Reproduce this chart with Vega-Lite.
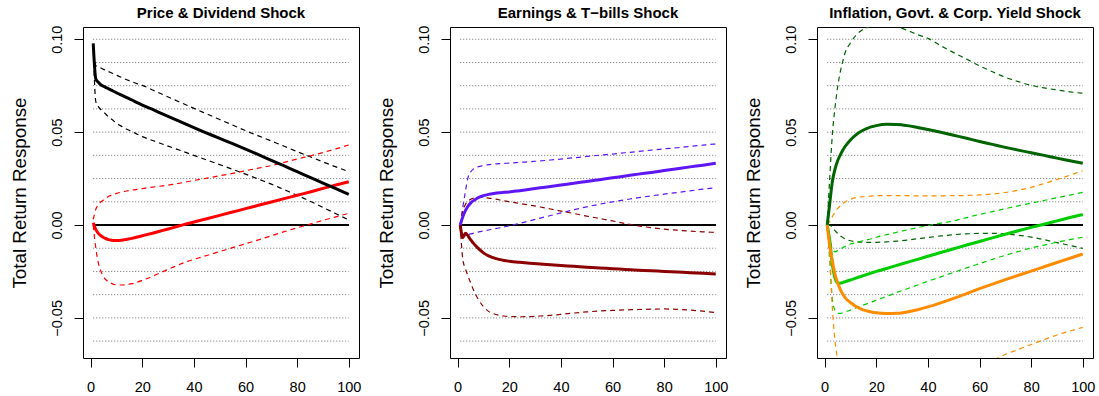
{
  "$schema": "https://vega.github.io/schema/vega-lite/v6.json",
  "autosize": {"type": "none"},
  "padding": {"left": 83, "top": 27, "right": 1016, "bottom": 38},
  "background": "white",
  "bounds": "flush",
  "spacing": 91,
  "datasets": {
    "grid": [{"g": -0.0625}, {"g": -0.05}, {"g": -0.0375}, {"g": -0.025}, {"g": -0.0125}, {"g": 0.0125}, {"g": 0.025}, {"g": 0.0375}, {"g": 0.05}, {"g": 0.0625}, {"g": 0.075}, {"g": 0.0875}, {"g": 0.1}],
    "p1": [
      {"x": 1, "bs": 0.0978, "bu": 0.0975, "bl": 0.0975, "rs": 0.0012, "ru": 0.003, "rl": 0.0},
      {"x": 2, "bs": 0.0786, "bu": 0.0858, "bl": 0.0664, "rs": -0.0025, "ru": 0.0085, "rl": -0.0125},
      {"x": 3, "bs": 0.0768, "bu": 0.0851, "bl": 0.0637, "rs": -0.0045, "ru": 0.011, "rl": -0.0205},
      {"x": 4, "bs": 0.0754, "bu": 0.0845, "bl": 0.0621, "rs": -0.0058, "ru": 0.0125, "rl": -0.025},
      {"x": 5, "bs": 0.0747, "bu": 0.0838, "bl": 0.061, "rs": -0.0067, "ru": 0.0135, "rl": -0.0278},
      {"x": 6, "bs": 0.074, "bu": 0.0832, "bl": 0.0595, "rs": -0.0074, "ru": 0.0145, "rl": -0.0296},
      {"x": 7, "bs": 0.0733, "bu": 0.0826, "bl": 0.058, "rs": -0.0079, "ru": 0.0155, "rl": -0.0307},
      {"x": 8, "bs": 0.0726, "bu": 0.082, "bl": 0.0571, "rs": -0.0082, "ru": 0.016, "rl": -0.0314},
      {"x": 10, "bs": 0.0712, "bu": 0.0806, "bl": 0.0548, "rs": -0.0084, "ru": 0.017, "rl": -0.0322},
      {"x": 12, "bs": 0.0699, "bu": 0.0794, "bl": 0.0531, "rs": -0.0082, "ru": 0.0177, "rl": -0.0323},
      {"x": 14, "bs": 0.0686, "bu": 0.0782, "bl": 0.0516, "rs": -0.0077, "ru": 0.0183, "rl": -0.0321},
      {"x": 16, "bs": 0.0673, "bu": 0.0771, "bl": 0.0503, "rs": -0.0072, "ru": 0.0188, "rl": -0.0316},
      {"x": 18, "bs": 0.0659, "bu": 0.0761, "bl": 0.0489, "rs": -0.0065, "ru": 0.0192, "rl": -0.0308},
      {"x": 20, "bs": 0.0646, "bu": 0.0752, "bl": 0.0476, "rs": -0.0058, "ru": 0.0196, "rl": -0.0298},
      {"x": 24, "bs": 0.0622, "bu": 0.0727, "bl": 0.0455, "rs": -0.0044, "ru": 0.0204, "rl": -0.0276},
      {"x": 28, "bs": 0.0597, "bu": 0.0702, "bl": 0.0435, "rs": -0.0029, "ru": 0.0211, "rl": -0.0251},
      {"x": 32, "bs": 0.0573, "bu": 0.0677, "bl": 0.0415, "rs": -0.0014, "ru": 0.0219, "rl": -0.0227},
      {"x": 36, "bs": 0.0548, "bu": 0.0653, "bl": 0.0395, "rs": 0.0002, "ru": 0.0229, "rl": -0.0204},
      {"x": 40, "bs": 0.0524, "bu": 0.0628, "bl": 0.0375, "rs": 0.0016, "ru": 0.024, "rl": -0.0185},
      {"x": 45, "bs": 0.0495, "bu": 0.0598, "bl": 0.035, "rs": 0.0034, "ru": 0.0252, "rl": -0.0164},
      {"x": 50, "bs": 0.0466, "bu": 0.0568, "bl": 0.0325, "rs": 0.0052, "ru": 0.0265, "rl": -0.0143},
      {"x": 55, "bs": 0.0438, "bu": 0.0538, "bl": 0.03, "rs": 0.007, "ru": 0.0278, "rl": -0.0122},
      {"x": 60, "bs": 0.0409, "bu": 0.0508, "bl": 0.0274, "rs": 0.0088, "ru": 0.0292, "rl": -0.0101},
      {"x": 65, "bs": 0.0379, "bu": 0.048, "bl": 0.0247, "rs": 0.0106, "ru": 0.0306, "rl": -0.008},
      {"x": 70, "bs": 0.0348, "bu": 0.0452, "bl": 0.022, "rs": 0.0124, "ru": 0.032, "rl": -0.0058},
      {"x": 75, "bs": 0.0318, "bu": 0.0424, "bl": 0.019, "rs": 0.0142, "ru": 0.0337, "rl": -0.0036},
      {"x": 80, "bs": 0.0287, "bu": 0.0395, "bl": 0.016, "rs": 0.016, "ru": 0.0355, "rl": -0.0015},
      {"x": 85, "bs": 0.0257, "bu": 0.0368, "bl": 0.0128, "rs": 0.0178, "ru": 0.0372, "rl": 0.0005},
      {"x": 90, "bs": 0.0226, "bu": 0.034, "bl": 0.0095, "rs": 0.0197, "ru": 0.039, "rl": 0.0025},
      {"x": 95, "bs": 0.0196, "bu": 0.0313, "bl": 0.0061, "rs": 0.0215, "ru": 0.041, "rl": 0.0044},
      {"x": 100, "bs": 0.0165, "bu": 0.0287, "bl": 0.0027, "rs": 0.0233, "ru": 0.0431, "rl": 0.0063}
    ],
    "p2": [
      {"x": 1, "us": 0.0, "uu": 0.0, "ul": 0.0, "ds": 0.0, "du": 0.0, "dl": 0.0},
      {"x": 2, "us": 0.0045, "uu": 0.0095, "ul": -0.006, "ds": -0.0068, "du": 0.0075, "dl": -0.0185},
      {"x": 3, "us": 0.0077, "uu": 0.018, "ul": -0.0058, "ds": -0.0045, "du": 0.011, "dl": -0.0235},
      {"x": 4, "us": 0.0101, "uu": 0.0255, "ul": -0.0052, "ds": -0.0058, "du": 0.0128, "dl": -0.0275},
      {"x": 5, "us": 0.0118, "uu": 0.0285, "ul": -0.0048, "ds": -0.0079, "du": 0.0138, "dl": -0.031},
      {"x": 6, "us": 0.013, "uu": 0.03, "ul": -0.0045, "ds": -0.0096, "du": 0.0144, "dl": -0.0345},
      {"x": 7, "us": 0.0139, "uu": 0.0308, "ul": -0.0041, "ds": -0.0112, "du": 0.0147, "dl": -0.0375},
      {"x": 8, "us": 0.0147, "uu": 0.0314, "ul": -0.0038, "ds": -0.0126, "du": 0.0148, "dl": -0.04},
      {"x": 10, "us": 0.0158, "uu": 0.032, "ul": -0.0032, "ds": -0.015, "du": 0.0148, "dl": -0.044},
      {"x": 12, "us": 0.0165, "uu": 0.0325, "ul": -0.0027, "ds": -0.0166, "du": 0.0145, "dl": -0.0465},
      {"x": 14, "us": 0.017, "uu": 0.0328, "ul": -0.0021, "ds": -0.0177, "du": 0.0141, "dl": -0.0478},
      {"x": 16, "us": 0.0174, "uu": 0.033, "ul": -0.0016, "ds": -0.0185, "du": 0.0136, "dl": -0.0486},
      {"x": 18, "us": 0.0176, "uu": 0.0332, "ul": -0.001, "ds": -0.0191, "du": 0.013, "dl": -0.049},
      {"x": 20, "us": 0.0178, "uu": 0.0333, "ul": -0.0004, "ds": -0.0195, "du": 0.0125, "dl": -0.0492},
      {"x": 24, "us": 0.0185, "uu": 0.0337, "ul": 0.0009, "ds": -0.0201, "du": 0.0116, "dl": -0.0494},
      {"x": 28, "us": 0.0192, "uu": 0.0341, "ul": 0.0023, "ds": -0.0206, "du": 0.0107, "dl": -0.0493},
      {"x": 32, "us": 0.02, "uu": 0.0345, "ul": 0.0037, "ds": -0.021, "du": 0.0097, "dl": -0.049},
      {"x": 36, "us": 0.0207, "uu": 0.035, "ul": 0.0051, "ds": -0.0214, "du": 0.0086, "dl": -0.0486},
      {"x": 40, "us": 0.0215, "uu": 0.0355, "ul": 0.0065, "ds": -0.0218, "du": 0.0075, "dl": -0.0481},
      {"x": 45, "us": 0.0225, "uu": 0.0362, "ul": 0.0082, "ds": -0.0222, "du": 0.0062, "dl": -0.0474},
      {"x": 50, "us": 0.0234, "uu": 0.0369, "ul": 0.0098, "ds": -0.0227, "du": 0.0048, "dl": -0.0468},
      {"x": 55, "us": 0.0244, "uu": 0.0376, "ul": 0.0112, "ds": -0.0231, "du": 0.0035, "dl": -0.0463},
      {"x": 60, "us": 0.0254, "uu": 0.0382, "ul": 0.0125, "ds": -0.0235, "du": 0.0022, "dl": -0.046},
      {"x": 65, "us": 0.0264, "uu": 0.0389, "ul": 0.0136, "ds": -0.0239, "du": 0.0008, "dl": -0.0457},
      {"x": 70, "us": 0.0274, "uu": 0.0396, "ul": 0.0147, "ds": -0.0243, "du": -0.0005, "dl": -0.0455},
      {"x": 75, "us": 0.0283, "uu": 0.0403, "ul": 0.0157, "ds": -0.0246, "du": -0.0014, "dl": -0.0453},
      {"x": 80, "us": 0.0293, "uu": 0.041, "ul": 0.0166, "ds": -0.025, "du": -0.0022, "dl": -0.0452},
      {"x": 85, "us": 0.0303, "uu": 0.0416, "ul": 0.0175, "ds": -0.0253, "du": -0.0028, "dl": -0.0454},
      {"x": 90, "us": 0.0313, "uu": 0.0423, "ul": 0.0184, "ds": -0.0257, "du": -0.0033, "dl": -0.0458},
      {"x": 95, "us": 0.0322, "uu": 0.043, "ul": 0.0193, "ds": -0.026, "du": -0.0037, "dl": -0.0464},
      {"x": 100, "us": 0.0332, "uu": 0.0436, "ul": 0.0201, "ds": -0.0264, "du": -0.004, "dl": -0.0472}
    ],
    "p3": [
      {"x": 1, "gs": 0.0, "gu": 0.0, "gl": 0.0, "ls": 0.0, "lu": 0.0, "ll": 0.0, "os": 0.0, "ou": 0.0, "ol": 0.0},
      {"x": 2, "gs": 0.012, "gu": 0.026, "gl": 0.0, "ls": -0.0085, "lu": -0.007, "ll": -0.02, "os": -0.0115, "ou": 0.002, "ol": -0.018},
      {"x": 3, "gs": 0.0235, "gu": 0.049, "gl": -0.0015, "ls": -0.0215, "lu": -0.013, "ll": -0.04, "os": -0.0195, "ou": 0.0045, "ol": -0.045},
      {"x": 4, "gs": 0.03, "gu": 0.063, "gl": -0.003, "ls": -0.0285, "lu": -0.0145, "ll": -0.046, "os": -0.0265, "ou": 0.0068, "ol": -0.062},
      {"x": 5, "gs": 0.0345, "gu": 0.074, "gl": -0.0045, "ls": -0.0312, "lu": -0.0138, "ll": -0.0475, "os": -0.031, "ou": 0.0088, "ol": -0.0725},
      {"x": 6, "gs": 0.0375, "gu": 0.082, "gl": -0.0058, "ls": -0.0313, "lu": -0.013, "ll": -0.0476, "os": -0.0345, "ou": 0.0103, "ol": -0.08},
      {"x": 7, "gs": 0.0402, "gu": 0.088, "gl": -0.0067, "ls": -0.031, "lu": -0.0122, "ll": -0.0472, "os": -0.0372, "ou": 0.0115, "ol": -0.085},
      {"x": 8, "gs": 0.0424, "gu": 0.093, "gl": -0.0075, "ls": -0.0305, "lu": -0.0115, "ll": -0.0467, "os": -0.0392, "ou": 0.0125, "ol": -0.089},
      {"x": 10, "gs": 0.0458, "gu": 0.098, "gl": -0.0085, "ls": -0.0296, "lu": -0.0102, "ll": -0.0458, "os": -0.0417, "ou": 0.0138, "ol": -0.094},
      {"x": 12, "gs": 0.0484, "gu": 0.102, "gl": -0.009, "ls": -0.0286, "lu": -0.0095, "ll": -0.0446, "os": -0.0437, "ou": 0.0147, "ol": -0.096},
      {"x": 14, "gs": 0.0503, "gu": 0.1045, "gl": -0.0092, "ls": -0.0277, "lu": -0.0088, "ll": -0.0436, "os": -0.0451, "ou": 0.0151, "ol": -0.097},
      {"x": 16, "gs": 0.0517, "gu": 0.106, "gl": -0.0093, "ls": -0.0268, "lu": -0.0081, "ll": -0.0426, "os": -0.0461, "ou": 0.0154, "ol": -0.0975},
      {"x": 18, "gs": 0.0528, "gu": 0.107, "gl": -0.0093, "ls": -0.0259, "lu": -0.0074, "ll": -0.0416, "os": -0.0468, "ou": 0.0156, "ol": -0.098},
      {"x": 20, "gs": 0.0535, "gu": 0.1075, "gl": -0.0093, "ls": -0.025, "lu": -0.0066, "ll": -0.0405, "os": -0.0473, "ou": 0.0158, "ol": -0.098},
      {"x": 24, "gs": 0.0542, "gu": 0.1078, "gl": -0.0091, "ls": -0.0234, "lu": -0.0052, "ll": -0.0384, "os": -0.0476, "ou": 0.0158, "ol": -0.0975},
      {"x": 28, "gs": 0.0541, "gu": 0.1068, "gl": -0.0087, "ls": -0.0217, "lu": -0.0039, "ll": -0.0363, "os": -0.0475, "ou": 0.0158, "ol": -0.096},
      {"x": 32, "gs": 0.0535, "gu": 0.1048, "gl": -0.0081, "ls": -0.0201, "lu": -0.0026, "ll": -0.0343, "os": -0.0468, "ou": 0.0158, "ol": -0.094},
      {"x": 36, "gs": 0.0525, "gu": 0.1025, "gl": -0.0074, "ls": -0.0185, "lu": -0.0014, "ll": -0.0323, "os": -0.0456, "ou": 0.0157, "ol": -0.092},
      {"x": 40, "gs": 0.0514, "gu": 0.1005, "gl": -0.0067, "ls": -0.0168, "lu": -0.0003, "ll": -0.0303, "os": -0.0441, "ou": 0.0157, "ol": -0.09},
      {"x": 45, "gs": 0.0499, "gu": 0.0965, "gl": -0.0059, "ls": -0.0148, "lu": 0.001, "ll": -0.0279, "os": -0.0419, "ou": 0.0157, "ol": -0.0865},
      {"x": 50, "gs": 0.0483, "gu": 0.0928, "gl": -0.0052, "ls": -0.0128, "lu": 0.0023, "ll": -0.0255, "os": -0.0395, "ou": 0.0158, "ol": -0.083},
      {"x": 55, "gs": 0.0467, "gu": 0.0893, "gl": -0.0048, "ls": -0.0108, "lu": 0.004, "ll": -0.0231, "os": -0.0369, "ou": 0.0159, "ol": -0.0795},
      {"x": 60, "gs": 0.045, "gu": 0.0857, "gl": -0.0045, "ls": -0.0089, "lu": 0.0057, "ll": -0.0208, "os": -0.0343, "ou": 0.0162, "ol": -0.0765},
      {"x": 65, "gs": 0.0434, "gu": 0.0825, "gl": -0.0045, "ls": -0.0069, "lu": 0.0072, "ll": -0.0185, "os": -0.0318, "ou": 0.0167, "ol": -0.073},
      {"x": 70, "gs": 0.0418, "gu": 0.0795, "gl": -0.0048, "ls": -0.005, "lu": 0.0088, "ll": -0.0163, "os": -0.0294, "ou": 0.0175, "ol": -0.0697},
      {"x": 75, "gs": 0.0403, "gu": 0.0772, "gl": -0.0055, "ls": -0.0031, "lu": 0.0103, "ll": -0.0143, "os": -0.0271, "ou": 0.0187, "ol": -0.067},
      {"x": 80, "gs": 0.0389, "gu": 0.0752, "gl": -0.0065, "ls": -0.0013, "lu": 0.0118, "ll": -0.0124, "os": -0.0248, "ou": 0.0203, "ol": -0.0643},
      {"x": 85, "gs": 0.0375, "gu": 0.0738, "gl": -0.0079, "ls": 0.0004, "lu": 0.0132, "ll": -0.0108, "os": -0.0225, "ou": 0.0223, "ol": -0.0617},
      {"x": 90, "gs": 0.036, "gu": 0.0727, "gl": -0.0095, "ls": 0.0022, "lu": 0.0147, "ll": -0.0093, "os": -0.0202, "ou": 0.0245, "ol": -0.0592},
      {"x": 95, "gs": 0.0346, "gu": 0.0717, "gl": -0.011, "ls": 0.004, "lu": 0.0161, "ll": -0.0079, "os": -0.0179, "ou": 0.0268, "ol": -0.0571},
      {"x": 100, "gs": 0.0332, "gu": 0.0709, "gl": -0.0126, "ls": 0.0057, "lu": 0.0176, "ll": -0.0066, "os": -0.0156, "ou": 0.0293, "ol": -0.0551}
    ]
  },
  "hconcat": [
    {
      "width": 276, "height": 331,
      "title": {"text": "Price & Dividend Shock"},
      "layer": [
        {"data": {"name": "grid"}, "mark": {"type": "rule", "color": "#6e6e6e", "strokeDash": [1, 2], "strokeWidth": 1},
         "encoding": {"y": {"field": "g", "type": "quantitative", "scale": {"domain": [-0.0716, 0.1066], "nice": false, "zero": false}, "axis": {"values": [-0.05, 0, 0.05, 0.1], "format": ".2f", "title": "Total Return Response"}},
                      "x": {"datum": 1, "type": "quantitative", "scale": {"domain": [-2.96, 103.96], "nice": false, "zero": false}, "axis": {"values": [0, 20, 40, 60, 80, 100], "format": "d", "title": null}},
                      "x2": {"datum": 100}}},
        {"data": {"name": "grid"}, "mark": {"type": "rule", "color": "black", "strokeWidth": 1.5},
         "encoding": {"y": {"datum": 0, "type": "quantitative"}, "x": {"datum": 1, "type": "quantitative"}, "x2": {"datum": 100}}},
        {"data": {"name": "p1"}, "transform": [{"fold": ["bu", "bl", "ru", "rl"], "as": ["k", "v"]}],
         "mark": {"type": "line", "clip": true, "strokeWidth": 1.2, "strokeDash": [5, 4], "interpolate": "monotone"},
         "encoding": {"x": {"field": "x", "type": "quantitative"}, "y": {"field": "v", "type": "quantitative"},
                      "color": {"field": "k", "type": "nominal", "legend": null, "scale": {"domain": ["bu", "bl", "ru", "rl", "rs", "bs"], "range": ["#000000", "#000000", "#ff0000", "#ff0000", "#ff0000", "#000000"]}}}},
        {"data": {"name": "p1"}, "transform": [{"fold": ["rs", "bs"], "as": ["k", "v"]}],
         "mark": {"type": "line", "clip": true, "strokeWidth": 3, "interpolate": "monotone"},
         "encoding": {"x": {"field": "x", "type": "quantitative"}, "y": {"field": "v", "type": "quantitative"},
                      "color": {"field": "k", "type": "nominal", "legend": null}}}
      ]
    },
    {
      "width": 276, "height": 331,
      "title": {"text": "Earnings & T\u2212bills Shock"},
      "layer": [
        {"data": {"name": "grid"}, "mark": {"type": "rule", "color": "#6e6e6e", "strokeDash": [1, 2], "strokeWidth": 1},
         "encoding": {"y": {"field": "g", "type": "quantitative", "scale": {"domain": [-0.0716, 0.1066], "nice": false, "zero": false}, "axis": {"values": [-0.05, 0, 0.05, 0.1], "format": ".2f", "title": "Total Return Response"}},
                      "x": {"datum": 1, "type": "quantitative", "scale": {"domain": [-2.96, 103.96], "nice": false, "zero": false}, "axis": {"values": [0, 20, 40, 60, 80, 100], "format": "d", "title": null}},
                      "x2": {"datum": 100}}},
        {"data": {"name": "grid"}, "mark": {"type": "rule", "color": "black", "strokeWidth": 1.5},
         "encoding": {"y": {"datum": 0, "type": "quantitative"}, "x": {"datum": 1, "type": "quantitative"}, "x2": {"datum": 100}}},
        {"data": {"name": "p2"}, "transform": [{"fold": ["uu", "ul", "du", "dl"], "as": ["k", "v"]}],
         "mark": {"type": "line", "clip": true, "strokeWidth": 1.2, "strokeDash": [5, 4], "interpolate": "monotone"},
         "encoding": {"x": {"field": "x", "type": "quantitative"}, "y": {"field": "v", "type": "quantitative"},
                      "color": {"field": "k", "type": "nominal", "legend": null, "scale": {"domain": ["uu", "ul", "du", "dl", "ds", "us"], "range": ["#5f16f5", "#5f16f5", "#8b0000", "#8b0000", "#8b0000", "#5f16f5"]}}}},
        {"data": {"name": "p2"}, "transform": [{"fold": ["ds", "us"], "as": ["k", "v"]}],
         "mark": {"type": "line", "clip": true, "strokeWidth": 3, "interpolate": "monotone"},
         "encoding": {"x": {"field": "x", "type": "quantitative"}, "y": {"field": "v", "type": "quantitative"},
                      "color": {"field": "k", "type": "nominal", "legend": null}}}
      ]
    },
    {
      "width": 276, "height": 331,
      "title": {"text": "Inflation, Govt. & Corp. Yield Shock"},
      "layer": [
        {"data": {"name": "grid"}, "mark": {"type": "rule", "color": "#6e6e6e", "strokeDash": [1, 2], "strokeWidth": 1},
         "encoding": {"y": {"field": "g", "type": "quantitative", "scale": {"domain": [-0.0716, 0.1066], "nice": false, "zero": false}, "axis": {"values": [-0.05, 0, 0.05, 0.1], "format": ".2f", "title": "Total Return Response"}},
                      "x": {"datum": 1, "type": "quantitative", "scale": {"domain": [-2.96, 103.96], "nice": false, "zero": false}, "axis": {"values": [0, 20, 40, 60, 80, 100], "format": "d", "title": null}},
                      "x2": {"datum": 100}}},
        {"data": {"name": "grid"}, "mark": {"type": "rule", "color": "black", "strokeWidth": 1.5},
         "encoding": {"y": {"datum": 0, "type": "quantitative"}, "x": {"datum": 1, "type": "quantitative"}, "x2": {"datum": 100}}},
        {"data": {"name": "p3"}, "transform": [{"fold": ["gu", "gl", "lu", "ll", "ou", "ol"], "as": ["k", "v"]}],
         "mark": {"type": "line", "clip": true, "strokeWidth": 1.2, "strokeDash": [5, 4], "interpolate": "monotone"},
         "encoding": {"x": {"field": "x", "type": "quantitative"}, "y": {"field": "v", "type": "quantitative"},
                      "color": {"field": "k", "type": "nominal", "legend": null, "scale": {"domain": ["gu", "gl", "lu", "ll", "ou", "ol", "gs", "ls", "os"], "range": ["#006400", "#006400", "#00cd00", "#00cd00", "#ff8c00", "#ff8c00", "#006400", "#00cd00", "#ff8c00"]}}}},
        {"data": {"name": "p3"}, "transform": [{"fold": ["gs", "ls", "os"], "as": ["k", "v"]}],
         "mark": {"type": "line", "clip": true, "strokeWidth": 3, "interpolate": "monotone"},
         "encoding": {"x": {"field": "x", "type": "quantitative"}, "y": {"field": "v", "type": "quantitative"},
                      "color": {"field": "k", "type": "nominal", "legend": null}}}
      ]
    }
  ],
  "resolve": {"scale": {"color": "independent", "x": "independent", "y": "independent"}},
  "config": {
    "font": "Liberation Sans",
    "view": {"stroke": "black", "strokeWidth": 1},
    "axis": {"grid": false, "domain": false, "tickColor": "black", "tickSize": 9, "tickWidth": 1, "labelColor": "black", "labelFontSize": 14.5, "labelFont": "Liberation Sans", "titleColor": "black", "titleFont": "Liberation Sans", "titleFontWeight": "normal", "labelOverlap": false, "labelFlush": false},
    "axisX": {"labelBaseline": "alphabetic", "labelPadding": 24.7, "labelAlign": "center"},
    "axisY": {"labelAngle": 270, "labelAlign": "center", "labelBaseline": "alphabetic", "labelPadding": 12.3, "titleFontSize": 18.8, "titleAngle": 270, "titleBaseline": "alphabetic", "titleAlign": "center", "titleX": -57.5, "titleY": 165.5},
    "title": {"fontSize": 15, "fontWeight": "bold", "anchor": "middle", "frame": "group", "offset": 4, "baseline": "alphabetic", "color": "black", "font": "Liberation Sans"}
  }
}
